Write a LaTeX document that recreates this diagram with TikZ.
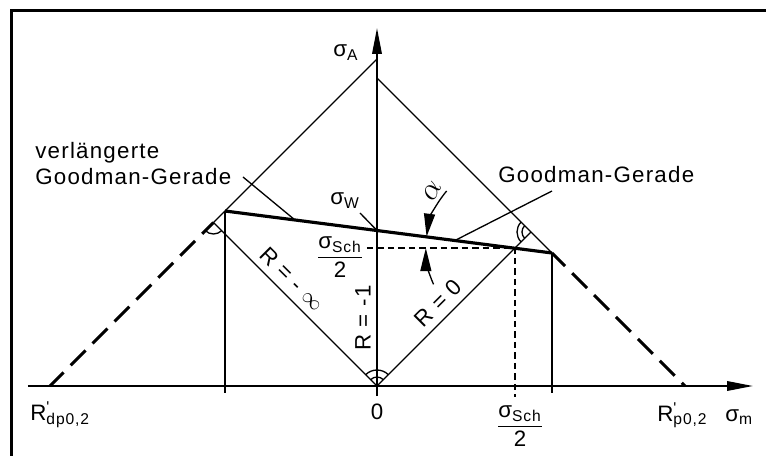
\documentclass[tikz,border=0pt]{standalone}
\usepackage{amsmath}
\usepackage{fontspec}
\setmainfont{Liberation Sans}[LetterSpace=5.5]
\usepackage{tikz}
\usetikzlibrary{arrows.meta,calc,positioning}
\newcommand{\sig}[1]{σ\textsubscript{#1}}
\newcommand{\halfsch}{$\dfrac{\text{\sig{Sch}}}{\text{2}}$}
\newcommand{\Rprime}[1]{R\rlap{\textsuperscript{\textquotesingle}}\textsubscript{#1}}
\tikzset{
  thinline/.style={line width=0.75pt},
  axisline/.style={line width=1.1pt,-{Triangle[length=0.52cm,width=0.19cm]}},
  goodman/.style={line width=1.8pt},
  dashthick/.style={line width=1.8pt,dash pattern=on 0.42cm off 0.2cm},
  dashthin/.style={line width=1pt,dash pattern=on 0.13cm off 0.08cm},
  leader/.style={line width=0.75pt},
  alphaarrow/.style={line width=0.75pt,-{Triangle[length=0.46cm,width=0.22cm]}}
}

\begin{document}
\begin{tikzpicture}[inner sep=0pt,font=\fontsize{12.7}{14.8}\selectfont]
\useasboundingbox (-7.54,-1.4) rectangle (7.78,7.72);
% frame
\draw[line width=1.7pt] (-7.31,-1.4) -- (-7.31,7.505) -- (7.78,7.505);

% key points
\coordinate (O) at (0,0);
\coordinate (Rdp) at (-6.54,0);
\coordinate (Rp) at (6.16,0);
\coordinate (topL) at (0,6.54);
\coordinate (topR) at (0,6.16);
\coordinate (GL) at (-3.04,3.50);
\coordinate (GR) at (3.50,2.66);
\coordinate (P) at (2.757,2.757);
\coordinate (Q) at (-3.27,3.27);
\coordinate (S) at (3.08,3.08);

% axes
\draw[axisline] (-6.98,0) -- (7.52,0);
\draw[axisline] (0,-0.2) -- (0,7.16);

% outer lines
\draw[thinline] (Q) -- (topL);
\draw[thinline] (topR) -- (GR);
\draw[dashthick,dash phase=0.1cm] (Q) -- (Rdp);
\draw[dashthick,dash phase=0.05cm] (GR) -- (Rp);

% inner lines
\draw[thinline] (O) -- (Q);
\draw[thinline] (O) -- (S);
\draw[thinline] (GL) -- (GL |- 0,-0.14);
\draw[thinline] (GR) -- (GR |- 0,-0.14);

% Goodman line
\draw[goodman] (GL) -- (GR);

% sigma_Sch/2 projections
\draw[dashthin] (-0.2,2.757) -- (P) -- (2.757,-0.22);

% angle marks
\draw[thinline] (O) ++(45:0.18) arc[start angle=45,end angle=135,radius=0.18];
\draw[thinline] (O) ++(45:0.32) arc[start angle=45,end angle=135,radius=0.32];
\draw[thinline] (S) ++(135:0.18) arc[start angle=135,end angle=225,radius=0.18];
\draw[thinline] (S) ++(135:0.28) arc[start angle=135,end angle=225,radius=0.28];
\draw[thinline] (Q) ++(225:0.23) arc[start angle=225,end angle=315,radius=0.23];

% alpha
\draw[alphaarrow] (P) ++(140:1.78) arc[start angle=140,end angle=172.6,radius=1.78];
\draw[alphaarrow] (P) ++(204:1.78) arc[start angle=204,end angle=180,radius=1.78];
\node[rotate=62,font=\fontsize{19}{19}\selectfont] (alpha) at (1.10,3.90) {$\alpha$};

% labels
\node[anchor=base west] (sigA) at (-0.88,6.58) {\sig{A}};
\node[anchor=base west] (sigm) at (6.96,-0.70) {\sig{m}};
\node[anchor=base west] (Rdplab) at (-6.94,-0.68) {\Rprime{dp0,2}};
\node[anchor=base west] (Rplab) at (5.60,-0.70) {\Rprime{p0,2}};
\node (zero) at (0,-0.51) {0};
\node (schB) at (2.86,-0.80) {\halfsch};
\node (schL) at (-0.74,2.58) {\halfsch};
\node[anchor=base west] (sigW) at (-0.94,3.62) {\sig{W}};
\node[rotate=90] (Rm1) at (-0.28,1.36) {R = -1};
\node[rotate=-45] (Rinf) at (-1.69,2.14) {R = - $\infty$};
\node[rotate=45] (R0) at (1.22,1.66) {R = 0};
\node[anchor=base west] (gg) at (2.42,4.06) {Goodman-Gerade};
\node[anchor=north west,align=left] (vgg) at (-6.84,4.88) {verlängerte\\Goodman-Gerade};

% leaders
\coordinate (vggEnd) at (-2.68,4.18);
\coordinate (ggEnd) at (3.50,3.90);
\coordinate (sigWEnd) at (-0.34,3.46);
\draw[leader] (vggEnd) -- ($(GL)!0.214!(GR)$);
\draw[leader] (ggEnd) -- ($(GL)!0.703!(GR)$);
\draw[leader] (sigWEnd) -- ($(GL)!0.465!(GR)$);
\end{tikzpicture}
\end{document}
